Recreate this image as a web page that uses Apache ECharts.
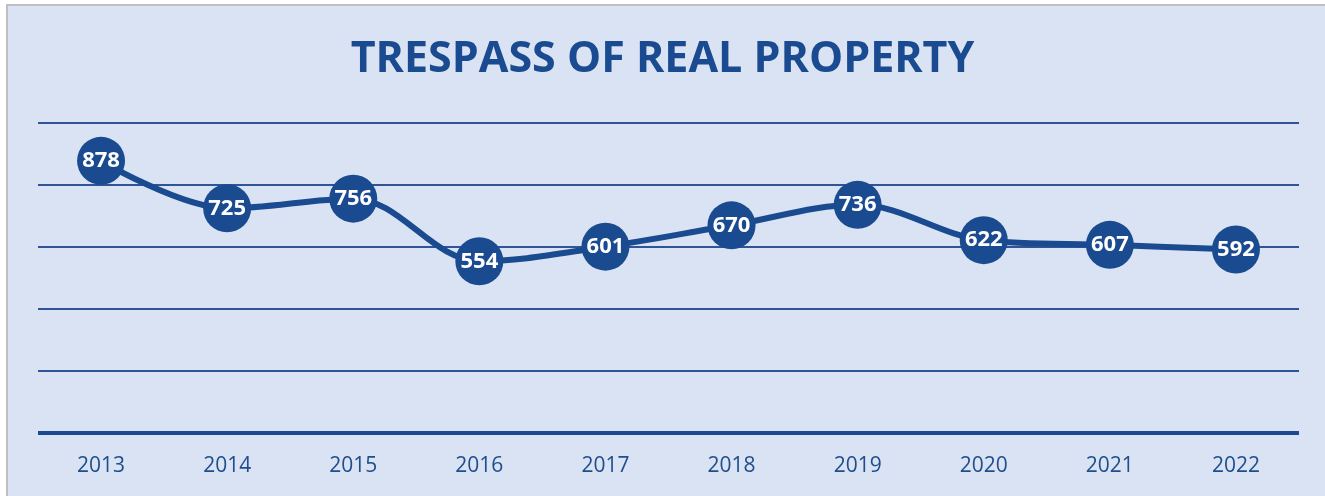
<!DOCTYPE html>
<html>
<head>
<meta charset="utf-8">
<script src="https://cdn.jsdelivr.net/npm/echarts@6/dist/echarts.min.js"></script>
<style>
  html, body { margin: 0; padding: 0; background: #ffffff; }
  #chart { width: 1325px; height: 496px; }
</style>
</head>
<body>
<div id="chart"></div>
<script>
// Yearly counts of trespass of real property
const years = ['2013', '2014', '2015', '2016', '2017', '2018', '2019', '2020', '2021', '2022'];
const counts = [878, 725, 756, 554, 601, 670, 736, 622, 607, 592];
const yTicks = { min: 0, max: 1000, interval: 200 };

const navy = '#1a4a8f';
const gridBlue = '#2f5597';
const panel = '#dae3f3';

const chart = echarts.init(document.getElementById('chart'));
chart.setOption({
  backgroundColor: '#ffffff',
  animation: false,
  graphic: [
    { type: 'rect', z: -10, shape: { x: 8, y: 6, width: 1317, height: 490 }, style: { fill: panel } },
    { type: 'line', z: -9, shape: { x1: 7, y1: 4, x2: 7, y2: 496 }, style: { stroke: '#bfbfbf', lineWidth: 2 } },
    { type: 'line', z: -9, shape: { x1: 6, y1: 5, x2: 1325, y2: 5 }, style: { stroke: '#bfbfbf', lineWidth: 2 } }
  ],
  title: {
    text: 'TRESPASS OF REAL PROPERTY',
    left: 'center',
    top: 33,
    textStyle: { fontFamily: 'Open Sans', fontWeight: 'bold', fontSize: 43, color: navy }
  },
  grid: { left: 38, right: 26, top: 123, bottom: 63 },
  xAxis: {
    type: 'category',
    data: years,
    boundaryGap: true,
    axisLine: { lineStyle: { color: navy, width: 4, cap: 'butt' } },
    axisTick: { show: false },
    axisLabel: { color: '#1f4e8c', fontSize: 21, fontFamily: 'Open Sans', margin: 23 }
  },
  yAxis: {
    type: 'value',
    min: yTicks.min,
    max: yTicks.max,
    interval: yTicks.interval,
    axisLine: { show: false },
    axisTick: { show: false },
    axisLabel: { show: false },
    splitLine: { lineStyle: { color: gridBlue, width: 2 } }
  },
  series: [{
    type: 'line',
    data: counts,
    smooth: 0.35,
    symbol: 'circle',
    symbolSize: 48,
    lineStyle: { color: navy, width: 6 },
    itemStyle: { color: navy },
    label: {
      show: true,
      position: 'inside',
      color: '#ffffff',
      fontFamily: 'Open Sans',
      fontWeight: 'bold',
      fontSize: 22
    }
  }]
});
</script>
</body>
</html>
